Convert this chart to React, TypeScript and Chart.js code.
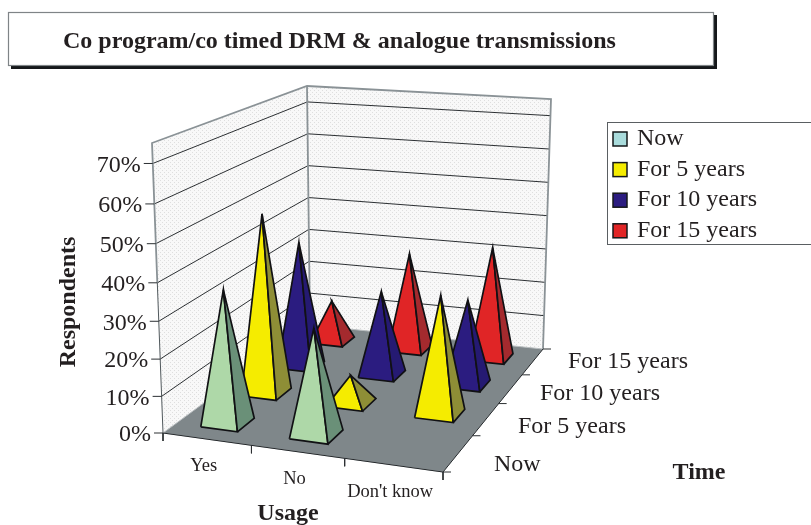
import React, { useEffect, useRef } from "react";
import { Chart, registerables } from "chart.js";

Chart.register(...registerables);

const titleText = "Co program/co timed DRM & analogue transmissions";
const usageLabels = ["Yes", "No", "Don't know"];
const timeLabels = ["Now", "For 5 years", "For 10 years", "For 15 years"];
const tickValues = [0, 10, 20, 30, 40, 50, 60, 70];
const axisMax = 75;

const valuesNow = [36, 28.5, 0];
const values5 = [50, 7.7, 32.5];
const values10 = [36, 24, 24];
const values15 = [12, 28.5, 32.5];
const seriesValues = [valuesNow, values5, values10, values15];

const legendColors = ["#a9dcdc", "#f5ec00", "#2b1c80", "#e02526"];
const frontColors = ["#aed8a8", "#f5ec00", "#2b1c80", "#e02526"];
const sideColors = ["#6a9078", "#8e8e36", "#251a72", "#a42a2e"];

type P = { x: number; y: number };

function quadMap(p0: P, p1: P, p2: P, p3: P) {
  const dx1 = p1.x - p2.x, dx2 = p3.x - p2.x, sx = p0.x - p1.x + p2.x - p3.x;
  const dy1 = p1.y - p2.y, dy2 = p3.y - p2.y, sy = p0.y - p1.y + p2.y - p3.y;
  const den = dx1 * dy2 - dx2 * dy1;
  const g = (sx * dy2 - dx2 * sy) / den;
  const h = (dx1 * sy - sx * dy1) / den;
  const a = p1.x - p0.x + g * p1.x, b = p3.x - p0.x + h * p3.x;
  const d = p1.y - p0.y + g * p1.y, e = p3.y - p0.y + h * p3.y;
  return (u: number, w: number): P => {
    const q = g * u + h * w + 1;
    return { x: (a * u + b * w + p0.x) / q, y: (d * u + e * w + p0.y) / q };
  };
}

// camera of the 3D box: floor and roof quads
const floorAt = quadMap({ x: 163, y: 433 }, { x: 443, y: 472 }, { x: 543, y: 349 }, { x: 310, y: 325 });
const roofAt = quadMap({ x: 152, y: 143 }, { x: 447, y: 169 }, { x: 551, y: 99 }, { x: 307, y: 86 });

function project(u: number, w: number, value: number): P {
  const a = 0.94 + 0.06 * w;
  const h = value / axisMax;
  const t = (a * h) / (1 - h + a * h);
  const f = floorAt(u, w), r = roofAt(u, w);
  return { x: f.x + (r.x - f.x) * t, y: f.y + (r.y - f.y) * t };
}

const BASE_FRACTION = 0.42;
const WALL_FRAME = "#8a9296";

function poly(points: P[], polyFill: any, borderColor: string, borderWidth: number) {
  return {
    data: points,
    polyFill,
    borderColor,
    borderWidth,
    showLine: true,
    pointRadius: 0,
    pointHoverRadius: 0,
    tension: 0,
    fill: false,
    borderJoinStyle: "miter",
    borderCapStyle: "butt",
  };
}

function makeDots(): CanvasPattern | string {
  const c = document.createElement("canvas");
  c.width = 4;
  c.height = 4;
  const x = c.getContext("2d")!;
  x.fillStyle = "#f8f8f8";
  x.fillRect(0, 0, 4, 4);
  x.fillStyle = "#dedede";
  x.fillRect(0, 0, 1, 1);
  x.fillRect(2, 2, 1, 1);
  return x.createPattern(c, "repeat") || "#f0f0f0";
}

function buildDatasets() {
  const cols = usageLabels.length, rows = timeLabels.length;
  const sets: any[] = [];
  const dots = makeDots();

  // walls
  sets.push(poly([project(0, 0, 0), project(0, 1, 0), project(0, 1, axisMax), project(0, 0, axisMax)], dots, "transparent", 0));
  sets.push(poly([project(0, 1, 0), project(1, 1, 0), project(1, 1, axisMax), project(0, 1, axisMax)], dots, "transparent", 0));

  // gridlines
  tickValues.slice(1).forEach((v) => {
    sets.push(poly([project(0, 0, v), project(0, 1, v), project(1, 1, v)], null, "#2c3033", 1));
  });

  // wall frame
  sets.push(poly([project(0, 0, 40), project(0, 0, axisMax), project(0, 1, axisMax), project(1, 1, axisMax), project(1, 1, 0)], null, WALL_FRAME, 1.8));
  sets.push(poly([project(0, 1, 0), project(0, 1, axisMax)], null, WALL_FRAME, 1.8));
  sets.push(poly([project(0, 0, 0), project(0, 0, 40)], null, "#50585c", 1));

  // floor
  const fc = [project(0, 0, 0), project(1, 0, 0), project(1, 1, 0), project(0, 1, 0)];
  sets.push(poly([...fc, fc[0]], "#7f878a", "#b8bdbf", 1));
  sets.push(poly([fc[0], fc[1], fc[2]], null, "#23272a", 1));

  // axis ticks
  tickValues.forEach((v) => {
    const p = project(0, 0, v);
    sets.push(poly([{ x: p.x - 9, y: p.y }, p], null, "#2c3033", 1));
  });
  for (let i = 0; i <= cols; i++) {
    const p = project(i / cols, 0, 0);
    sets.push(poly([p, { x: p.x, y: p.y + 8 }], null, "#2c3033", 1));
  }
  for (let j = 0; j <= rows; j++) {
    const p = project(1, j / rows, 0);
    sets.push(poly([p, { x: p.x + 8, y: p.y }], null, "#2c3033", 1));
  }

  // pyramids, back row first
  for (let j = rows - 1; j >= 0; j--) {
    for (let i = 0; i < cols; i++) {
      const v = seriesValues[j][i];
      if (!v) continue;
      const cu = (i + 0.5) / cols, cw = (j + 0.5) / rows;
      const du = BASE_FRACTION / cols, dw = BASE_FRACTION / rows;
      const fl = project(cu - du / 2, cw - dw / 2, 0);
      const fr = project(cu + du / 2, cw - dw / 2, 0);
      const rb = project(cu + du / 2, cw + dw / 2, 0);
      const apex = project(cu, cw, v);
      sets.push(poly([fl, apex, fr, fl], frontColors[j], "#111114", 1.7));
      sets.push(poly([fr, apex, rb, fr], sideColors[j], "#111114", 1.7));
    }
  }

  const n = sets.length;
  sets.forEach((s, idx) => (s.order = n - idx));
  return sets;
}

const depthAnchors: [number, number][] = [[494, 465], [518, 427], [540, 394], [568, 362]];
const INK = "#231f20";
const SERIF = '"Liberation Serif", serif';

const polyFillPlugin = {
  id: "polyFill",
  beforeDatasetDraw(chart: any, args: any) {
    const ds = chart.data.datasets[args.index];
    if (!ds.polyFill) return;
    const pts = args.meta.data;
    const ctx = chart.ctx;
    ctx.save();
    ctx.beginPath();
    pts.forEach((pt: any, i: number) => (i ? ctx.lineTo(pt.x, pt.y) : ctx.moveTo(pt.x, pt.y)));
    ctx.closePath();
    ctx.fillStyle = ds.polyFill;
    ctx.fill();
    ctx.restore();
  },
};

const decorPlugin = {
  id: "decor",
  afterDraw(chart: any) {
    const ctx = chart.ctx as CanvasRenderingContext2D;
    ctx.save();

    // title box
    ctx.fillStyle = "#15181a";
    ctx.fillRect(11, 15, 706, 54);
    ctx.fillStyle = "#ffffff";
    ctx.fillRect(8, 12, 706, 54);
    ctx.strokeStyle = "#7f8487";
    ctx.lineWidth = 1.2;
    ctx.strokeRect(8.5, 12.5, 705, 53);
    ctx.fillStyle = INK;
    ctx.textAlign = "left";
    ctx.textBaseline = "alphabetic";
    ctx.font = `bold 24px ${SERIF}`;
    ctx.fillText(titleText, 63, 48);

    // legend
    ctx.fillStyle = "#ffffff";
    ctx.fillRect(607, 122, 210, 123);
    ctx.strokeStyle = "#5a5f62";
    ctx.lineWidth = 1;
    ctx.strokeRect(607.5, 122.5, 210, 122);
    timeLabels.forEach((label, i) => {
      const y = 132 + i * 30.6;
      ctx.fillStyle = legendColors[i];
      ctx.fillRect(613, y, 14, 14);
      ctx.strokeStyle = "#15181a";
      ctx.lineWidth = 1.5;
      ctx.strokeRect(613, y, 14, 14);
      ctx.fillStyle = INK;
      ctx.font = `24px ${SERIF}`;
      ctx.fillText(label, 637, y + 13);
    });

    // value labels
    ctx.fillStyle = INK;
    ctx.font = `24px ${SERIF}`;
    ctx.textAlign = "right";
    ctx.textBaseline = "middle";
    tickValues.forEach((v) => {
      const p = project(0, 0, v);
      ctx.fillText(`${v}%`, p.x - 12, p.y + 2);
    });

    // usage labels
    ctx.font = `18.5px ${SERIF}`;
    ctx.textAlign = "center";
    usageLabels.forEach((label, i) => {
      const p = project((i + 0.5) / usageLabels.length, 0, 0);
      ctx.fillText(label, p.x - 3, p.y + 27);
    });

    // time labels
    ctx.font = `24px ${SERIF}`;
    ctx.textAlign = "left";
    timeLabels.forEach((label, j) => {
      ctx.fillText(label, depthAnchors[j][0], depthAnchors[j][1]);
    });

    // axis titles
    ctx.font = `bold 24px ${SERIF}`;
    ctx.textAlign = "center";
    ctx.fillText("Usage", 288, 514);
    ctx.fillText("Time", 699, 473);
    ctx.translate(69, 302);
    ctx.rotate(-Math.PI / 2);
    ctx.fillText("Respondents", 0, 0);
    ctx.restore();
  },
};

export default function App() {
  const ref = useRef<HTMLCanvasElement>(null);
  useEffect(() => {
    document.body.style.margin = "0";
    document.body.style.background = "#ffffff";
    const chart = new Chart(ref.current!, {
      type: "scatter",
      data: { datasets: buildDatasets() },
      options: {
        animation: false,
        responsive: false,
        layout: { padding: 0 },
        events: [],
        scales: {
          x: { type: "linear", min: 0, max: 811, display: false },
          y: { type: "linear", min: 0, max: 525, reverse: true, display: false },
        },
        plugins: { legend: { display: false }, tooltip: { enabled: false } },
      },
      plugins: [polyFillPlugin, decorPlugin],
    } as any);
    return () => chart.destroy();
  }, []);
  return <canvas ref={ref} width={811} height={525} style={{ display: "block", width: 811, height: 525 }} />;
}
